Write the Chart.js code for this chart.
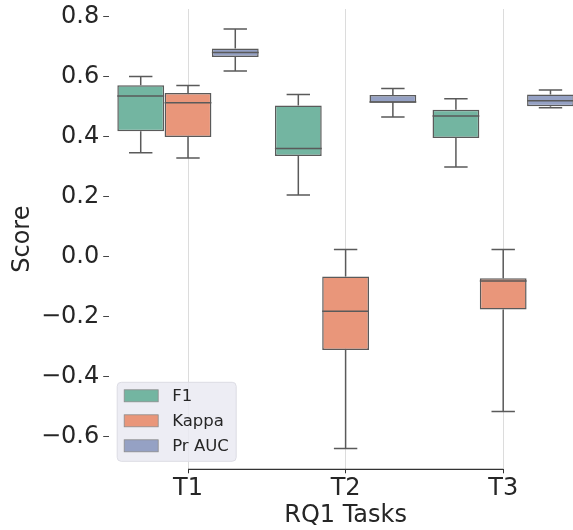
<!DOCTYPE html>
<html>
<head>
<meta charset="utf-8">
<script src="https://cdn.jsdelivr.net/npm/chart.js@4.4.1/dist/chart.umd.min.js"></script>
<style>
    html, body { margin: 0; padding: 0; background: #fff; overflow: hidden; }
    #wrap { width: 592px; height: 530px; }
</style>
</head>
<body>
<div id="wrap"><canvas id="boxChart"></canvas></div>
<script>
// 데이터: 각 과제별 [아래 수염, Q1, 중앙값, Q3, 위 수염]
const tasks = ['T1', 'T2', 'T3'];
const seriesNames = ['F1', 'Kappa', 'Pr AUC'];
const f1Stats = [
    [0.346, 0.417, 0.535, 0.571, 0.600],
    [0.205, 0.335, 0.360, 0.503, 0.540],
    [0.298, 0.395, 0.468, 0.489, 0.526]
];
const kappaStats = [
    [0.328, 0.398, 0.512, 0.545, 0.570],
    [-0.641, -0.312, -0.183, -0.067, 0.023],
    [-0.517, -0.177, -0.082, -0.073, 0.023]
];
const prAucStats = [
    [0.618, 0.665, 0.680, 0.693, 0.758],
    [0.465, 0.512, 0.515, 0.538, 0.560],
    [0.496, 0.501, 0.519, 0.540, 0.555]
];
const yTickValues = [-0.6, -0.4, -0.2, 0.0, 0.2, 0.4, 0.6, 0.8];

// 스타일
const fillColors = ['#73b5a1', '#e9967a', '#95a1c4'];
const lineColor = '#5a5a5a';
const textColor = '#262626';
const FONT = 'DejaVu Sans';

const allStats = [f1Stats, kappaStats, prAucStats];

// 상자(Q1~Q3)는 floating bar 로 그림
const datasets = seriesNames.map((name, i) => ({
    label: name,
    data: allStats[i].map(s => [s[1], s[3]]),
    stats: allStats[i],
    backgroundColor: fillColors[i],
    borderColor: lineColor,
    borderWidth: 1.5,
    borderSkipped: false,
    categoryPercentage: 0.9,
    barPercentage: 0.99,
    clip: false
}));

// 중앙값, 수염, 캡 그리기
const boxLines = {
    id: 'boxLines',
    afterDatasetsDraw(chart) {
        const ctx = chart.ctx;
        const y = chart.scales.y;
        ctx.save();
        ctx.strokeStyle = lineColor;
        ctx.lineWidth = 1.5;
        chart.data.datasets.forEach((ds, di) => {
            const meta = chart.getDatasetMeta(di);
            meta.data.forEach((bar, i) => {
                const [lo, q1, med, q3, hi] = ds.stats[i];
                const half = bar.width / 2;
                const cap = bar.width / 4;
                ctx.beginPath();
                // 위 수염
                ctx.moveTo(bar.x, y.getPixelForValue(q3));
                ctx.lineTo(bar.x, y.getPixelForValue(hi));
                ctx.moveTo(bar.x - cap, y.getPixelForValue(hi));
                ctx.lineTo(bar.x + cap, y.getPixelForValue(hi));
                // 아래 수염
                ctx.moveTo(bar.x, y.getPixelForValue(q1));
                ctx.lineTo(bar.x, y.getPixelForValue(lo));
                ctx.moveTo(bar.x - cap, y.getPixelForValue(lo));
                ctx.lineTo(bar.x + cap, y.getPixelForValue(lo));
                // 중앙값
                ctx.moveTo(bar.x - half, y.getPixelForValue(med));
                ctx.lineTo(bar.x + half, y.getPixelForValue(med));
                ctx.stroke();
            });
        });
        ctx.restore();
    },
    afterDraw(chart) {
        const ctx = chart.ctx;
        const x = chart.scales.x;
        const area = chart.chartArea;
        ctx.save();
        // 잘린 x축 선 (T1 ~ T3)
        ctx.strokeStyle = '#333333';
        ctx.lineWidth = 1.25;
        ctx.beginPath();
        ctx.moveTo(x.getPixelForValue(0), area.bottom);
        ctx.lineTo(x.getPixelForValue(tasks.length - 1), area.bottom);
        ctx.stroke();

        // 범례 (lower left)
        const lx = area.left + 8;
        const bw = 119, bh = 79;
        const ly = area.bottom - 8 - bh;
        ctx.fillStyle = 'rgba(234, 234, 242, 0.85)';
        ctx.strokeStyle = '#dcdce4';
        ctx.lineWidth = 1;
        ctx.beginPath();
        ctx.roundRect(lx, ly, bw, bh, 4);
        ctx.fill();
        ctx.stroke();
        ctx.font = '16.5px "' + FONT + '"';
        ctx.textBaseline = 'middle';
        chart.data.datasets.forEach((ds, i) => {
            const cy = ly + 13.5 + i * 25;
            ctx.fillStyle = ds.backgroundColor;
            ctx.fillRect(lx + 7, cy - 6, 34, 12);
            ctx.strokeStyle = '#8c8c8c';
            ctx.lineWidth = 0.8;
            ctx.strokeRect(lx + 7, cy - 6, 34, 12);
            ctx.fillStyle = textColor;
            ctx.fillText(ds.label, lx + 55, cy + 1);
        });
        ctx.restore();
    }
};

const ctx = document.getElementById('boxChart').getContext('2d');
new Chart(ctx, {
    type: 'bar',
    data: { labels: tasks, datasets: datasets },
    options: {
        responsive: true,
        maintainAspectRatio: false,
        animation: false,
        events: [],
        layout: { padding: { top: 9, right: 10, left: 0, bottom: 0 } },
        plugins: {
            legend: { display: false },
            tooltip: { enabled: false }
        },
        scales: {
            x: {
                offset: true,
                grid: {
                    offset: false,
                    color: '#dcdcdc',
                    lineWidth: 1,
                    drawTicks: true,
                    tickLength: 4,
                    tickColor: '#333333'
                },
                border: { display: false },
                ticks: {
                    color: textColor,
                    font: { family: FONT, size: 24 },
                    padding: 1,
                    maxRotation: 0
                },
                title: {
                    display: true,
                    text: 'RQ1 Tasks',
                    color: textColor,
                    font: { family: FONT, size: 24 },
                    padding: { top: 0, bottom: 0 }
                },
                afterFit(scale) {
                    scale.height = 60.7;
                    scale.paddingLeft = 0;
                    scale.paddingRight = 0;
                }
            },
            y: {
                min: -0.71,
                max: 0.825,
                grid: {
                    drawOnChartArea: false,
                    drawTicks: true,
                    tickLength: 6,
                    tickColor: '#444444',
                    tickWidth: 1
                },
                border: { display: false },
                afterBuildTicks(scale) {
                    scale.ticks = yTickValues.map(v => ({ value: v }));
                },
                ticks: {
                    color: textColor,
                    font: { family: FONT, size: 24 },
                    padding: 4,
                    callback: v => v.toFixed(1).replace('-', '\u2212')
                },
                title: {
                    display: true,
                    text: 'Score',
                    color: textColor,
                    font: { family: FONT, size: 24 },
                    padding: { top: 8, bottom: 0 }
                },
                afterFit(scale) {
                    scale.width = 109.2;
                    scale.paddingTop = 0;
                    scale.paddingBottom = 0;
                }
            }
        }
    },
    plugins: [boxLines]
});
</script>
</body>
</html>
